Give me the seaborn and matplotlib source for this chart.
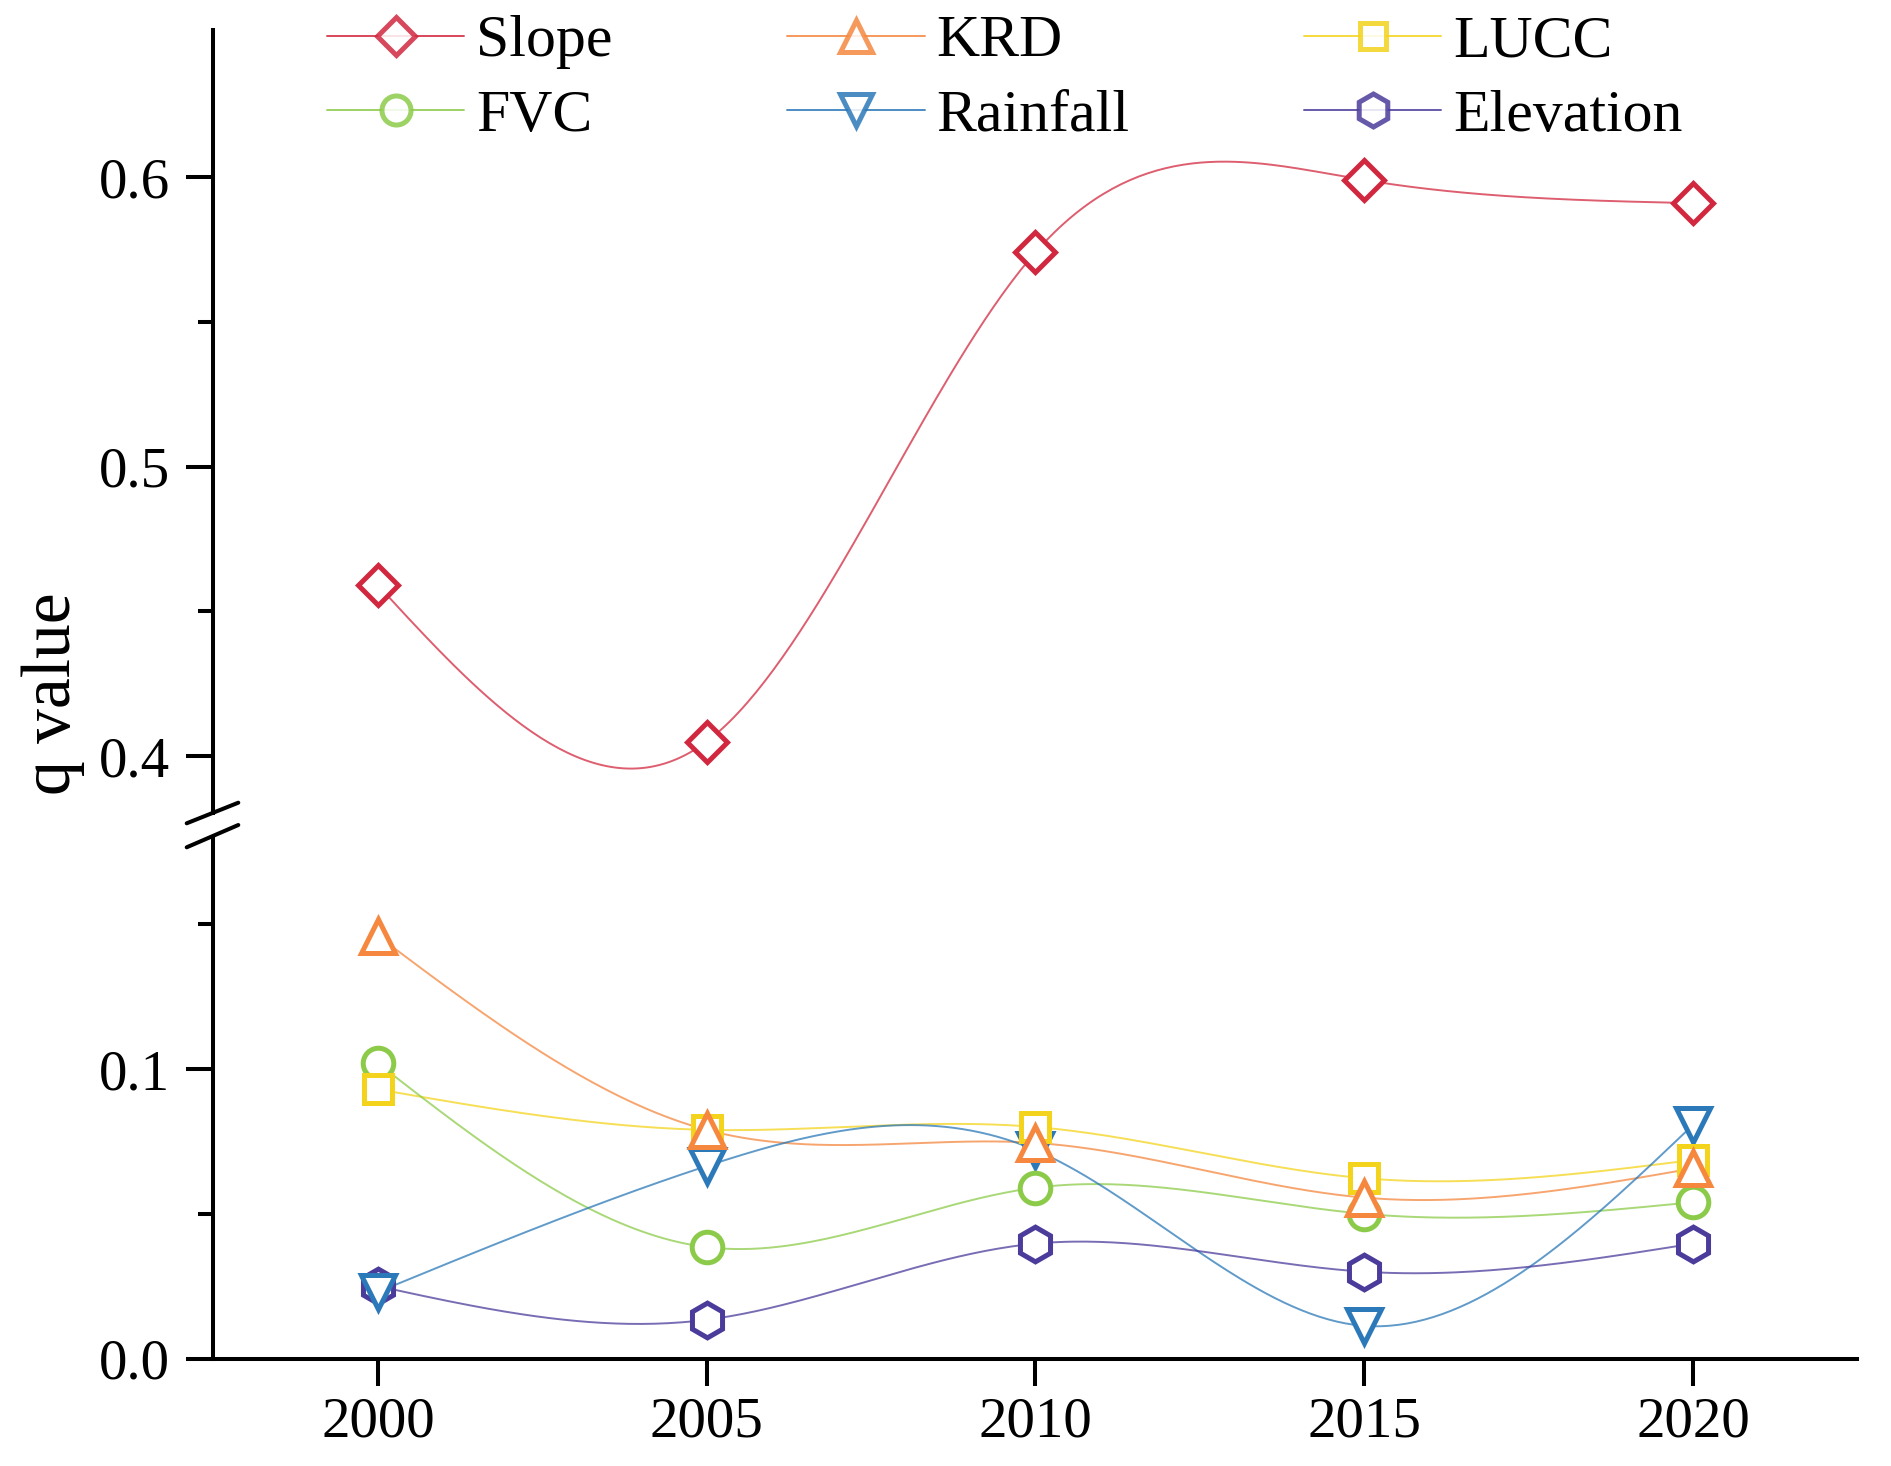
import numpy as np
import pandas as pd
import matplotlib.pyplot as plt
from matplotlib.lines import Line2D
import seaborn as sns

# Data
years = [2000, 2005, 2010, 2015, 2020]
factors = ["Slope", "KRD", "LUCC", "FVC", "Rainfall", "Elevation"]
slope = [0.459, 0.405, 0.574, 0.599, 0.591]
krd = [0.146, 0.079, 0.0745, 0.0556, 0.0657]
lucc = [0.093, 0.079, 0.080, 0.0623, 0.0686]
fvc = [0.102, 0.0385, 0.059, 0.050, 0.054]
rainfall = [0.023, 0.0665, 0.072, 0.0113, 0.0807]
elevation = [0.025, 0.0134, 0.0397, 0.030, 0.0397]

values = dict(zip(factors, [slope, krd, lucc, fvc, rainfall, elevation]))
colors = {"Slope": "#D2283F", "KRD": "#F5873F", "LUCC": "#F3D31C",
          "FVC": "#8CCB4A", "Rainfall": "#2B79B8", "Elevation": "#4B3C9B"}
markers = {"Slope": "D", "KRD": "^", "LUCC": "s",
           "FVC": "o", "Rainfall": "v", "Elevation": "h"}
msizes = {"Slope": 20, "KRD": 24, "LUCC": 20, "FVC": 22, "Rainfall": 24, "Elevation": 25}


def natural_spline(xs, ys, num=300):
    # smooth connecting line (like Origin's spline connect)
    xs = np.asarray(xs, float)
    ys = np.asarray(ys, float)
    n = len(xs)
    h = np.diff(xs)
    A = np.zeros((n, n))
    b = np.zeros(n)
    A[0, 0] = 1
    A[-1, -1] = 1
    for i in range(1, n - 1):
        A[i, i - 1] = h[i - 1]
        A[i, i] = 2 * (h[i - 1] + h[i])
        A[i, i + 1] = h[i]
        b[i] = 6 * ((ys[i + 1] - ys[i]) / h[i] - (ys[i] - ys[i - 1]) / h[i - 1])
    M = np.linalg.solve(A, b)
    xf = np.linspace(xs[0], xs[-1], num)
    idx = np.clip(np.searchsorted(xs, xf) - 1, 0, n - 2)
    x0, x1 = xs[idx], xs[idx + 1]
    hh = x1 - x0
    yf = (M[idx] * (x1 - xf) ** 3 / (6 * hh) + M[idx + 1] * (xf - x0) ** 3 / (6 * hh)
          + (ys[idx] / hh - M[idx] * hh / 6) * (x1 - xf)
          + (ys[idx + 1] / hh - M[idx + 1] * hh / 6) * (xf - x0))
    return xf, yf


curves = []
for name in factors:
    xf, yf = natural_spline(years, values[name])
    curves.append(pd.DataFrame({"year": xf, "q": yf, "factor": name}))
curves = pd.concat(curves, ignore_index=True)

sns.set_theme(style="ticks")
plt.rcParams["font.family"] = ["Liberation Serif", "DejaVu Serif"]
plt.rcParams["axes.linewidth"] = 2.9
for key in ("text.color", "axes.labelcolor", "axes.edgecolor",
            "xtick.color", "ytick.color"):
    plt.rcParams[key] = "black"

W, H = 1891, 1466
fig = plt.figure(figsize=(W / 100, H / 100), dpi=100)
ax_top = fig.add_axes([0.1129, 0.4454, 0.8693, 0.5341])
ax_bot = fig.add_axes([0.1129, 0.0733, 0.8693, 0.3558])

for ax in (ax_top, ax_bot):
    sns.lineplot(data=curves, x="year", y="q", hue="factor", palette=colors,
                 hue_order=factors, linewidth=1.4, alpha=0.75, legend=False,
                 sort=False, estimator=None, ax=ax)
    for name in factors[::-1]:
        ax.plot(years, values[name], linestyle="none", marker=markers[name],
                markersize=msizes[name], markerfacecolor="white",
                markeredgecolor=colors[name], markeredgewidth=3.6, zorder=3)
    ax.set_xlim(1997.5, 2022.5)
    ax.set_xlabel("")
    ax.set_ylabel("")
    for s in ("top", "right"):
        ax.spines[s].set_visible(False)

ax_top.set_ylim(0.3803, 0.6508)
ax_top.set_yticks([0.4, 0.5, 0.6])
ax_top.set_yticks([0.45, 0.55], minor=True)
ax_top.spines["bottom"].set_visible(False)
ax_top.tick_params(axis="x", which="both", bottom=False, labelbottom=False)

ax_bot.set_ylim(0, 0.1802)
ax_bot.set_yticks([0.0, 0.1])
ax_bot.set_yticks([0.05, 0.15], minor=True)
ax_bot.set_xticks(years)
ax_bot.set_xticklabels([str(y) for y in years])

for ax in (ax_top, ax_bot):
    ax.yaxis.set_major_formatter(plt.FormatStrFormatter("%.1f"))
    ax.tick_params(axis="y", which="major", direction="out", length=19.5,
                   width=2.9, pad=12, labelsize=41, left=True)
    ax.tick_params(axis="y", which="minor", direction="out", length=10.5,
                   width=2.9, left=True)
ax_bot.tick_params(axis="x", which="major", direction="out", length=19.5,
                   width=2.9, pad=8, labelsize=41, bottom=True)

# axis break marks
for (xa, ya), (xb, yb) in [((186.7, 823.3), (238.3, 802.7)),
                           ((186.7, 847.3), (238.3, 825.0))]:
    fig.add_artist(Line2D([xa / W, xb / W], [1 - ya / H, 1 - yb / H],
                          color="black", linewidth=2.9,
                          transform=fig.transFigure))

fig.text(0.028, 0.527, "q value", rotation=90, ha="center", va="center",
         fontsize=50)

order = ["Slope", "FVC", "KRD", "Rainfall", "LUCC", "Elevation"]
handles = [Line2D([0], [0], color=colors[n], linewidth=1.4, alpha=0.85,
                  marker=markers[n], markersize=msizes[n] * 0.95,
                  markerfacecolor="white", markeredgecolor=colors[n],
                  markeredgewidth=3.6) for n in order]
fig.legend(handles, order, loc="upper left", bbox_to_anchor=(0.1729, 0.99),
           ncol=3, frameon=False, fontsize=43, handlelength=2.3,
           handletextpad=0.2, columnspacing=2.92, labelspacing=0.33,
           borderpad=0, borderaxespad=0)

fig.savefig("out.png", dpi=100)
